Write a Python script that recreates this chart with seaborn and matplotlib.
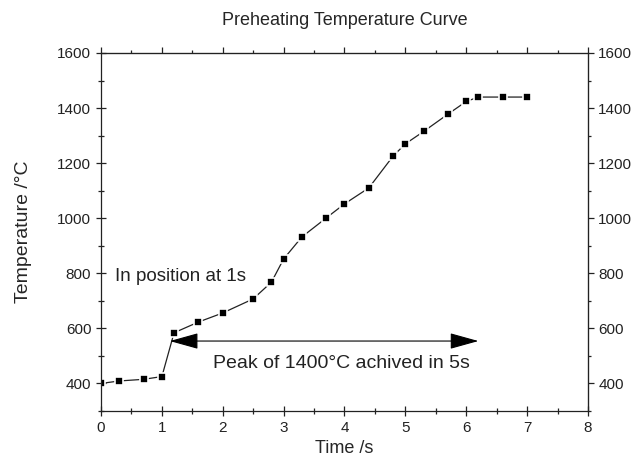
import numpy as np
import matplotlib
matplotlib.use("Agg")
import matplotlib.pyplot as plt
import pandas as pd
import seaborn as sns

# values
time_s = [0.0, 0.3, 0.7, 1.0, 1.2, 1.6, 2.0, 2.5, 2.8, 3.0, 3.3, 3.7, 4.0, 4.4,
          4.8, 5.0, 5.3, 5.7, 6.0, 6.2, 6.6, 7.0]
temp_c = [400, 409, 415, 425, 584, 623, 656, 707, 768, 852, 932, 1001, 1052, 1110,
          1226, 1270, 1315, 1378, 1424, 1440, 1440, 1440]
y_ticks = [400, 600, 800, 1000, 1200, 1400, 1600]
x_ticks = [0, 1, 2, 3, 4, 5, 6, 7, 8]

df = pd.DataFrame({"Time /s": time_s, "Temperature /°C": temp_c})

sns.set_style("ticks")
plt.rcParams["font.family"] = ["Liberation Sans", "DejaVu Sans"]

fig = plt.figure(figsize=(6.37, 4.69), dpi=100)
ax = fig.add_axes([0.1586, 0.1237, 0.923 - 0.1586, 0.887 - 0.1237])

sns.lineplot(data=df, x="Time /s", y="Temperature /°C", ax=ax, color="#222222",
             linewidth=0.9, marker="s", markersize=6.3, markerfacecolor="black",
             markeredgecolor="white", markeredgewidth=1.2)

ax.set_xlim(0, 8)
ax.set_ylim(300, 1600)
ax.set_xticks(x_ticks)
ax.set_yticks(y_ticks)
ax.set_xticks(np.arange(0.5, 8, 1), minor=True)
ax.set_yticks(np.arange(300, 1600, 200), minor=True)
ax.tick_params(which="both", direction="inout", labelsize=11, colors="#222222",
               width=0.9)
ax.tick_params(which="major", length=7)
ax.tick_params(which="minor", length=4)
for s in ax.spines.values():
    s.set_linewidth(0.9)
    s.set_color("#222222")

ax.set_xlabel("Time /s", fontsize=13, labelpad=4)
ax.set_ylabel("Temperature /°C", fontsize=14, labelpad=18)

# top and right axes
top = ax.secondary_xaxis("top")
top.set_xticks(x_ticks)
top.set_xticks(np.arange(0.5, 8, 1), minor=True)
top.tick_params(which="both", direction="out", labeltop=False, width=0.9,
                colors="#222222")
top.tick_params(which="major", length=4)
top.tick_params(which="minor", length=2.5)
right = ax.secondary_yaxis("right")
right.set_yticks(y_ticks)
right.set_yticks(np.arange(300, 1600, 200), minor=True)
right.tick_params(which="both", direction="out", labelsize=11, width=0.9,
                  colors="#222222")
right.tick_params(which="major", length=4)
right.tick_params(which="minor", length=2.5)

ax.set_title("Preheating Temperature Curve", fontsize=13, pad=20)

ax.text(0.23, 790, "In position at 1s", fontsize=13.5, va="center", ha="left",
        color="#222222")
ax.annotate("", xy=(1.13, 554), xytext=(6.2, 554),
            arrowprops=dict(arrowstyle="<|-|>,head_length=1.8,head_width=0.5",
                            color="black", lw=0.8, shrinkA=0, shrinkB=0))
ax.text(3.95, 474, "Peak of 1400°C achived in 5s", fontsize=14, ha="center",
        va="center", color="#222222")

fig.savefig("out.png", dpi=100)
